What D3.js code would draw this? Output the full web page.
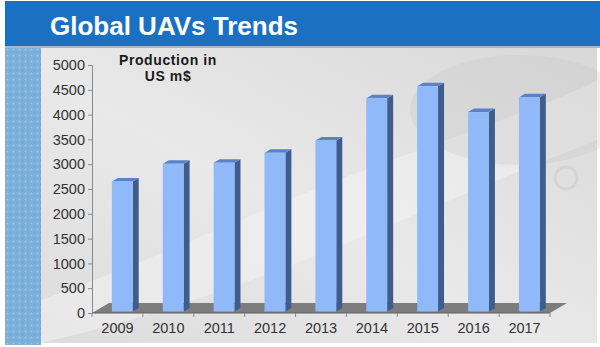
<!DOCTYPE html>
<html>
<head>
<meta charset="utf-8">
<script src="https://cdn.jsdelivr.net/npm/d3@7"></script>
<style>
  html, body { margin: 0; padding: 0; background: #ffffff; }
  svg { display: block; font-family: Arial, "Liberation Sans", sans-serif; }
</style>
</head>
<body>
<svg id="chart" width="600" height="347"></svg>
<script>
// Global UAV production, US m$ per year
const years = ["2009", "2010", "2011", "2012", "2013", "2014", "2015", "2016", "2017"];
const production = [2620, 2980, 3000, 3200, 3450, 4300, 4540, 4020, 4320];
const yTicks = [0, 500, 1000, 1500, 2000, 2500, 3000, 3500, 4000, 4500, 5000];
const titleText = "Global UAVs Trends";
const unitLines = ["Production in", "US m$"];

const svg = d3.select("#chart");
const defs = svg.append("defs");

// ---- backdrop -------------------------------------------------------------
const bg = defs.append("linearGradient").attr("id", "bgGrad")
  .attr("x1", 0).attr("y1", 1).attr("x2", 1).attr("y2", 0);
bg.append("stop").attr("offset", "0%").attr("stop-color", "#dcdcdc");
bg.append("stop").attr("offset", "45%").attr("stop-color", "#e9e9e9");
bg.append("stop").attr("offset", "100%").attr("stop-color", "#d8d8d8");

const dots = defs.append("pattern").attr("id", "dots")
  .attr("width", 6).attr("height", 6).attr("patternUnits", "userSpaceOnUse");
dots.append("rect").attr("width", 6).attr("height", 6).attr("fill", "#7db0db");
dots.append("circle").attr("cx", 1.5).attr("cy", 1.5).attr("r", 0.9).attr("fill", "#9ec4e6");
dots.append("circle").attr("cx", 4.5).attr("cy", 4.5).attr("r", 0.9).attr("fill", "#6fa3d2");

svg.append("rect").attr("x", 41).attr("y", 48).attr("width", 556).attr("height", 295)
  .attr("fill", "url(#bgGrad)");

// soft light swoosh and darker cloud in the backdrop
svg.append("path")
  .attr("d", "M41,300 C180,250 300,190 420,150 C500,120 560,100 597,80 L597,140 C520,170 430,210 330,250 C230,290 140,320 41,343 Z")
  .attr("fill", "#f4f4f4").attr("opacity", 0.5);
svg.append("ellipse").attr("cx", 520).attr("cy", 110).attr("rx", 110).attr("ry", 55)
  .attr("fill", "#c8c8c8").attr("opacity", 0.3);
svg.append("circle").attr("cx", 566).attr("cy", 178).attr("r", 11)
  .attr("fill", "none").attr("stroke", "#cdcdcd").attr("stroke-width", 3).attr("opacity", 0.6);

// left decorative stripe
svg.append("rect").attr("x", 5).attr("y", 48).attr("width", 36).attr("height", 297)
  .attr("fill", "url(#dots)");

// title bar
svg.append("rect").attr("x", 5).attr("y", 1).attr("width", 595).attr("height", 45)
  .attr("fill", "#1b70c4");
svg.append("rect").attr("x", 5).attr("y", 46).attr("width", 595).attr("height", 2)
  .attr("fill", "#9dbbd8");
svg.append("text").attr("x", 50).attr("y", 35)
  .attr("fill", "#ffffff").attr("font-size", 26).attr("font-weight", "bold")
  .text(titleText);

// ---- chart ----------------------------------------------------------------
const x = d3.scaleBand().domain(years).range([92, 550]).padding(0);
const y = d3.scaleLinear().domain([0, 5000]).range([313, 65]);

// depth offsets of the 3D floor and of each bar
const floorDx = 17, floorDy = -10;
const barDx = 6, barDy = -3.5;
const step = x.bandwidth();
const barOff = step * 0.39, barW = step * 0.41;
const lift = 1.5;

// floor
const [fx0, fx1] = x.range();
const y0 = y(0);
svg.append("path")
  .attr("d", `M${fx0},${y0} L${fx1},${y0} L${fx1 + floorDx},${y0 + floorDy} L${fx0 + floorDx},${y0 + floorDy} Z`)
  .attr("fill", "#7d7d7d");
svg.append("line").attr("x1", fx0).attr("x2", fx1).attr("y1", y0).attr("y2", y0)
  .attr("stroke", "#606060").attr("stroke-width", 1.2);

// bars: front, side, top faces
const bars = svg.append("g").selectAll("g").data(years.map((yr, i) => ({ yr, v: production[i] })))
  .join("g");
bars.each(function (d) {
  const g = d3.select(this);
  const bx = x(d.yr) + barOff;
  const top = y(d.v) - lift;
  const bot = y0 - lift;
  g.append("path")
    .attr("d", `M${bx + barW},${top} L${bx + barW + barDx},${top + barDy} L${bx + barW + barDx},${bot + barDy} L${bx + barW},${bot} Z`)
    .attr("fill", "#3e5d8c");
  g.append("path")
    .attr("d", `M${bx},${top} L${bx + barDx},${top + barDy} L${bx + barW + barDx},${top + barDy} L${bx + barW},${top} Z`)
    .attr("fill", "#5a83c6");
  g.append("rect").attr("x", bx).attr("y", top).attr("width", barW).attr("height", bot - top)
    .attr("fill", "#8fb9f8");
});

// y axis
const yAxis = svg.append("g").attr("transform", `translate(${fx0},0)`)
  .call(d3.axisLeft(y).tickValues(yTicks).tickSize(4).tickPadding(3).tickFormat(d3.format("d")));
yAxis.select(".domain").attr("stroke", "#8a8a8a");
yAxis.selectAll(".tick line").attr("stroke", "#8a8a8a");
yAxis.selectAll(".tick text").attr("fill", "#333333").attr("font-size", 14.5)
  .attr("font-family", "Arial, 'Liberation Sans', sans-serif");

// x axis along the floor's front edge
const xAxis = svg.append("g").attr("transform", `translate(0,${y0})`)
  .call(d3.axisBottom(x).tickSize(0).tickPadding(10));
xAxis.select(".domain").remove();
xAxis.selectAll(".tick text").attr("fill", "#333333").attr("font-size", 14.5)
  .attr("font-family", "Arial, 'Liberation Sans', sans-serif");
svg.append("g").selectAll("line").data(d3.range(years.length + 1))
  .join("line")
  .attr("x1", i => fx0 + i * step).attr("x2", i => fx0 + i * step)
  .attr("y1", y0).attr("y2", y0 + 4)
  .attr("stroke", "#8a8a8a");

// unit caption, two lines
svg.append("g").selectAll("text").data(unitLines).join("text")
  .attr("x", 168).attr("y", (d, i) => 65 + i * 16)
  .attr("text-anchor", "middle")
  .attr("font-size", 14).attr("font-weight", "bold").attr("letter-spacing", 0.6)
  .attr("fill", "#1a1a1a")
  .text(d => d);
</script>
</body>
</html>
